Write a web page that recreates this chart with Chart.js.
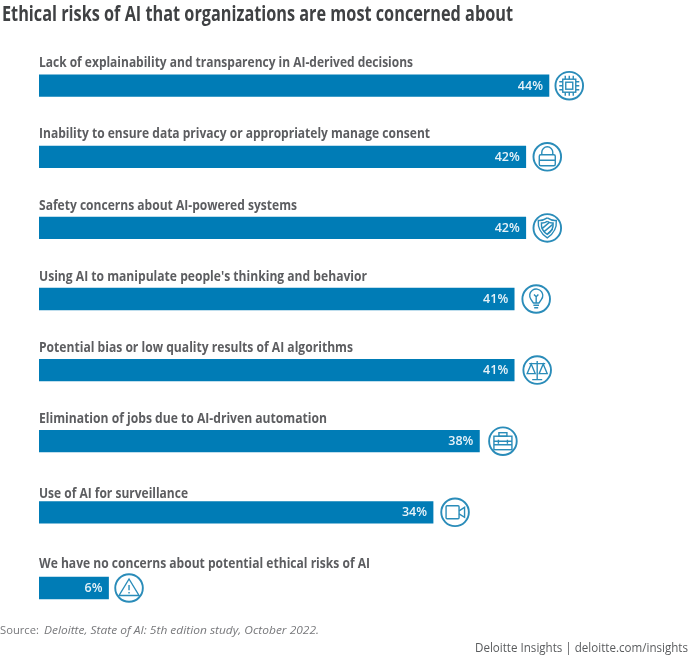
<!DOCTYPE html>
<html><head><meta charset="utf-8">
<style>html,body{margin:0;padding:0;background:#fff}canvas{display:block}</style>
<script src="https://cdn.jsdelivr.net/npm/chart.js@4"></script></head>
<body><div style="width:688px;height:656px"><canvas id="c" width="688" height="656"></canvas></div>
<script>
const categories = [
 "Lack of explainability and transparency in AI-derived decisions",
 "Inability to ensure data privacy or appropriately manage consent",
 "Safety concerns about AI-powered systems",
 "Using AI to manipulate people's thinking and behavior",
 "Potential bias or low quality results of AI algorithms",
 "Elimination of jobs due to AI-driven automation",
 "Use of AI for surveillance",
 "We have no concerns about potential ethical risks of AI"];
const values = [44,42,42,41,41,38,34,6];
const icons = ["chip","lock","shield","bulb","scale","case","camera","warn"];
const titleText = "Ethical risks of AI that organizations are most concerned about";
const sourceLead = "Source:";
const sourceText = "Deloitte, State of AI: 5th edition study, October 2022.";
const footerText = "Deloitte Insights | deloitte.com/insights";

const BAR='#007CB6', ICON='#2a8cb9', LABEL='#5c5d60', TITLE='#3f4143', FONT='"Open Sans"';

function fit(ctx,text,x,y,font,color,w,align){
  ctx.save();ctx.font=font;ctx.fillStyle=color;ctx.textBaseline='middle';ctx.textAlign='left';
  const m=ctx.measureText(text).width,s=w?w/m:1;
  const ox=align==='right'?x-m*s:x;
  ctx.translate(ox,y);ctx.scale(s,1);ctx.fillText(text,0,0);ctx.restore();
}
const draw={
 chip(c){c.strokeRect(-6.5,-6.5,13,13);c.strokeRect(-3.5,-3.5,7,7);
   c.beginPath();for(const d of[-4,0,4]){c.moveTo(d,-6.5);c.lineTo(d,-10);c.moveTo(d,6.5);c.lineTo(d,10);c.moveTo(-6.5,d);c.lineTo(-10,d);c.moveTo(6.5,d);c.lineTo(10,d);}c.stroke();},
 lock(c){c.beginPath();c.roundRect(-8,-2,16,11,1.5);c.moveTo(-8,3.5);c.lineTo(8,3.5);c.stroke();
   c.beginPath();c.moveTo(-5.5,-2);c.lineTo(-5.5,-4.5);c.arc(0,-4.5,5.5,Math.PI,0);c.lineTo(5.5,-2);c.stroke();},
 shield(c){const s=(k)=>{c.beginPath();c.moveTo(0,-10*k);c.quadraticCurveTo(4.5*k,-7*k,9*k,-7.5*k);c.quadraticCurveTo(10*k,3.5*k,0,10*k);c.quadraticCurveTo(-10*k,3.5*k,-9*k,-7.5*k);c.quadraticCurveTo(-4.5*k,-7*k,0,-10*k);c.stroke();};
   s(1);s(.65);c.beginPath();c.moveTo(-5.5,1);c.lineTo(2,-5.5);c.moveTo(-3.5,4);c.lineTo(5.5,-3.5);c.moveTo(0,6);c.lineTo(5.5,1);c.stroke();},
 bulb(c){c.beginPath();c.arc(0,-3.5,6.5,Math.PI*.8,Math.PI*.2);c.lineTo(2.8,4);c.lineTo(-2.8,4);c.closePath();c.stroke();
   c.beginPath();c.moveTo(-2.8,6.3);c.lineTo(2.8,6.3);c.moveTo(-2,8.7);c.lineTo(2,8.7);c.moveTo(0,4);c.lineTo(0,-3);c.moveTo(-2.2,-4.5);c.lineTo(0,-2.2);c.lineTo(2.2,-4.5);c.stroke();},
 scale(c){c.beginPath();c.moveTo(0,-9);c.lineTo(0,9);c.moveTo(-5,9.5);c.lineTo(5,9.5);c.moveTo(-8,-6.5);c.lineTo(8,-6.5);c.stroke();
   c.beginPath();c.moveTo(-6,-6);c.lineTo(-10,3.5);c.lineTo(-2,3.5);c.closePath();c.moveTo(6,-6);c.lineTo(2,3.5);c.lineTo(10,3.5);c.closePath();c.stroke();},
 case(c){c.strokeRect(-9,-5,18,13.5);c.strokeRect(-4,-8.5,8,3.5);
   c.beginPath();c.moveTo(-9,0);c.lineTo(9,0);c.moveTo(-9,3.5);c.lineTo(9,3.5);c.moveTo(-4.5,-1.5);c.lineTo(-4.5,2.5);c.moveTo(4.5,-1.5);c.lineTo(4.5,2.5);c.stroke();},
 camera(c){c.beginPath();c.roundRect(-9,-6.5,13,13,1);c.stroke();
   c.beginPath();c.moveTo(4,-1.5);c.lineTo(9.5,-5);c.lineTo(9.5,5);c.lineTo(4,1.5);c.stroke();},
 warn(c){c.beginPath();c.moveTo(0,-9);c.lineTo(10,7.5);c.lineTo(-10,7.5);c.closePath();c.stroke();
   c.beginPath();c.moveTo(0,-3);c.lineTo(0,2.2);c.moveTo(0,4);c.lineTo(0,5.5);c.stroke();}
};
const LAST_ROW_GAP=4.6, ICON_OFF=[20.3,21.5,21.5,22,23,23.5,22,20.5], LABEL_DY=[-22.7,-22.9,-22,-22,-22,-22,-19,-24];
const CATW=[374,391,258,328,314,288,149,331];
const deco={
 id:'deco',
 afterDatasetsUpdate(ch){const m=ch.getDatasetMeta(0).data;const el=m[m.length-1];el.y+=LAST_ROW_GAP;},
 afterDraw(ch){const c=ch.ctx,m=ch.getDatasetMeta(0).data;
  fit(c,titleText,2,15.5,'bold 21px '+FONT,TITLE,511);
  m.forEach((b,i)=>{
    fit(c,categories[i],39,b.y+LABEL_DY[i],'bold 15px '+FONT,LABEL,CATW[i]);
    fit(c,values[i]+'%',b.x-6,b.y+.5,'600 12.5px '+FONT,'#e6f2f8',0,'right');
    c.save();c.translate(b.x+ICON_OFF[i],b.y);c.strokeStyle=ICON;c.lineWidth=1.9;
    c.beginPath();c.arc(0,0,13.8,0,Math.PI*2);c.stroke();c.lineWidth=1.4;draw[icons[i]](c);c.restore();
  });
  fit(c,sourceLead,0,630.5,'11.5px '+FONT,'#77787b',39);
  fit(c,sourceText,44,630.5,'italic 11.5px '+FONT,'#77787b',275);
  fit(c,footerText,688,649,'12px '+FONT,'#5a5c5e',213,'right');
 }
};
new Chart(document.getElementById('c'),{
 type:'bar',
 data:{labels:categories,datasets:[{data:values,backgroundColor:BAR,barThickness:21.6,borderWidth:0}]},
 options:{indexAxis:'y',responsive:false,animation:false,
  layout:{padding:{left:39,right:69.5,top:50.15,bottom:37.05}},
  plugins:{legend:{display:false},tooltip:{enabled:false}},
  scales:{x:{display:false,min:0,max:50},y:{display:false}}},
 plugins:[deco]
});
</script></body></html>
